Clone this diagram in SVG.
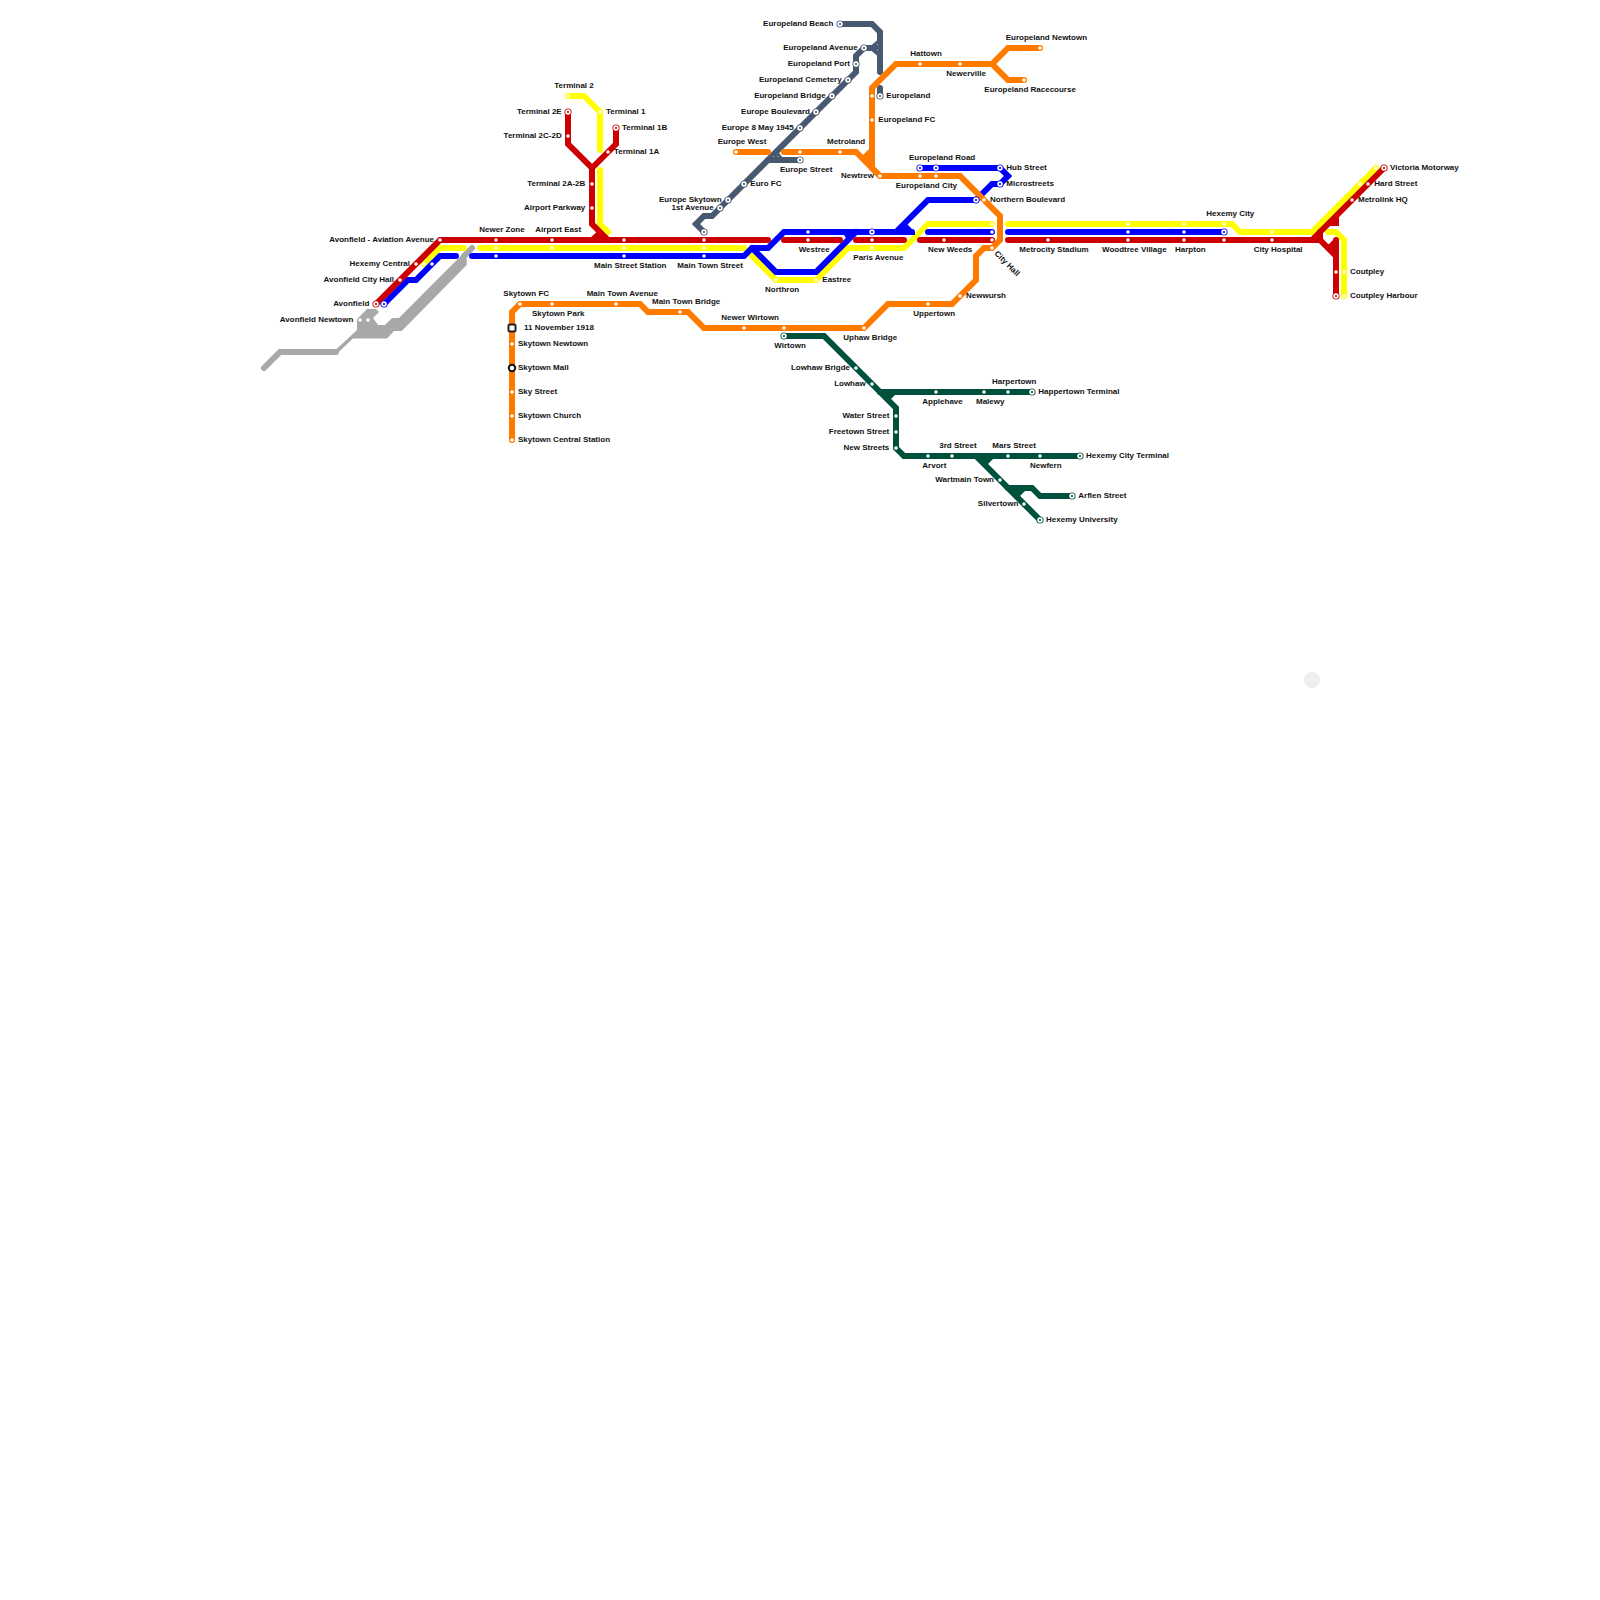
<svg xmlns="http://www.w3.org/2000/svg" width="1600" height="1600" viewBox="0 0 1600 1600">
<style>
text{font-family:"Liberation Sans",Arial,sans-serif;font-size:8px;font-weight:700;fill:#111111}
.e{text-anchor:end}
.m{text-anchor:middle}
.l{fill:none;stroke-width:6;stroke-linecap:round;stroke-linejoin:miter}
.red{stroke:#cc0000;color:#cc0000}.yel{stroke:#ffff00;color:#ffff00}.blu{stroke:#0000ff;color:#0000ff}.ora{stroke:#ff7b00;color:#ff7b00}.gra{stroke:#a8a8a8;color:#a8a8a8}.sla{stroke:#47596f;color:#47596f}.grn{stroke:#00513c;color:#00513c}
.fr{fill:#cc0000}.fb{fill:#0000ff}.fo{fill:#ff7b00}.fa{fill:#a8a8a8}.fs{fill:#47596f}.fg{fill:#00513c}
.d{fill:#fff}
.pin{fill:#fff;opacity:.7}
</style>
<defs>
<circle id="dot" r="1.8"/>
<g id="ring"><circle r="3.6" fill="currentColor" stroke="none"/><circle r="1.9" fill="currentColor" stroke="#fff" stroke-width="1.6"/></g>
</defs>
<circle id="pale-spot" cx="1312" cy="680" r="8" fill="#eeeeee"/>
<g id="connectors">
<g id="line-grey">
<polygon class="fa" points="466.7,250 399,318 392,318 385,325 378,325 373,318 379,312 376,309 367,309 357,319 357,330 336,349.5 336,354.5 353,338.5 387,338.5 394,331 401.7,331 466.7,265"/>
<path class="l gra" d="M264 368L280 352H336"/>
<path class="l gra" d="M464 256L472 248"/>
</g>
<g id="line-yellow">
<path class="l yel" d="M568 96H584L600 112V150"/>
<path class="l yel" d="M600 170V224L608 232"/>
<path class="l yel" d="M424 264L440 248H464"/>
<path class="l yel" d="M480 248H744"/>
<path class="l yel" d="M752 256L776 280H816L848 248H904L928 224H992"/>
<path class="l yel" d="M1008 224H1232L1240 232H1312L1376 168"/>
<path class="l yel" d="M1328 232H1336L1344 240V296"/>
</g>
<g id="line-blue">
<path class="l blu" d="M384 304L408 280H416L440 256H456"/>
<path class="l blu" d="M472 256H744L752 248H768L784 232H912"/>
<path class="l blu" d="M752 248L776 272H816L856 232"/>
<polygon class="fb" points="840,229 858,229 848,241"/>
<path class="l blu" d="M896 232L928 200H976"/>
<polygon class="fb" points="893,232 904,221 915,232 915,235 893,235"/>
<path class="l blu" d="M976 200L992 184H1000L1008 176L1000 168H920"/>
<path class="l blu" d="M928 232H992"/>
<path class="l blu" d="M1008 232H1224"/>
</g>
<g id="line-red">
<path class="l red" d="M376 304L440 240H768"/>
<path class="l red" d="M784 240H840"/>
<path class="l red" d="M856 240H904"/>
<path class="l red" d="M920 240H992"/>
<path class="l red" d="M1008 240H1320L1336 256"/>
<path class="l red" d="M568 112V144L592 168V224L608 240"/>
<path class="l red" d="M616 128V144L592 168"/>
<polygon class="fr" points="590,238 600,229 610,238"/>
<path class="l red" d="M1312 240L1384 168"/>
<path class="l red" d="M1336 240V296"/>
<path class="l red" d="M1320 240V232"/>
<polygon class="fr" points="1339,217 1339,226 1325,226"/>
<polygon class="fr" points="1328,245 1336,237 1336,258"/>
</g>
<g id="line-slate">
<path class="l sla" d="M840 24H872L880 32V72"/>
<path class="l sla" d="M880 88V96"/>
<path class="l sla" d="M880 48H864L856 56V72L720 208L712 216H704L696 224L704 232"/>
<polygon class="fs" points="868,48 880,38 880,58"/>
<path class="l sla" d="M768 160H800"/>
<polygon class="fs" points="776,149 786,162 766,162"/>
<circle class="pin" cx="877.5" cy="44.5" r=".6"/>
<circle class="pin" cx="877.5" cy="50" r=".6"/>
<circle class="pin" cx="773.5" cy="156.5" r=".6"/>
<circle class="pin" cx="778" cy="156.5" r=".6"/>
</g>
<g id="line-orange">
<path class="l ora" d="M736 152H768"/>
<path class="l ora" d="M784 152H856L880 176H960L1000 216V240L992 248H984L976 256V280L952 304H888L864 328H704L688 312H648L640 304H520L512 312V440"/>
<path class="l ora" d="M880 176L872 168V88L896 64H992L1008 48H1040"/>
<path class="l ora" d="M992 64L1008 80H1024"/>
<polygon class="fo" points="862,156 872,146 872,170"/>
</g>
<g id="line-green">
<path class="l grn" d="M784 336H824L896 408V448L904 456H1080"/>
<path class="l grn" d="M880 392H1032"/>
<polygon class="fg" points="878,392 898,392 888,402"/>
<path class="l grn" d="M976 456L1040 520"/>
<polygon class="fg" points="972,456 996,456 986,466"/>
<path class="l grn" d="M1008 488H1032L1040 496H1072"/>
<polygon class="fg" points="1004,488 1028,488 1018,498"/>
</g>
</g>
<g id="nodes">
<g id="n-terminal-2"><use href="#dot" class="d" x="568" y="96"/><text x="554.3" y="88">Terminal 2</text></g>
<g id="n-terminal-2e"><use href="#ring" class="red" x="568" y="112"/><text class="e" x="561.7" y="114">Terminal 2E</text></g>
<g id="n-terminal-2c-2d"><use href="#dot" class="d" x="568" y="136"/><text class="e" x="561.7" y="138">Terminal 2C-2D</text></g>
<g id="n-terminal-1"><use href="#dot" class="d" x="600" y="112"/><text x="606" y="114">Terminal 1</text></g>
<g id="n-terminal-1b"><use href="#ring" class="red" x="616" y="128"/><text x="622" y="130">Terminal 1B</text></g>
<g id="n-terminal-1a"><use href="#dot" class="d" x="608" y="152"/><text x="614" y="154">Terminal 1A</text></g>
<g id="n-terminal-2a-2b"><use href="#dot" class="d" x="592" y="184"/><text class="e" x="585.3" y="186">Terminal 2A-2B</text></g>
<g id="n-airport-parkway"><use href="#dot" class="d" x="592" y="208"/><text class="e" x="585.3" y="210">Airport Parkway</text></g>
<g id="n-newer-zone"><use href="#dot" class="d" x="496" y="240"/><use href="#dot" class="d" x="496" y="248"/><use href="#dot" class="d" x="496" y="256"/><text x="479.3" y="232">Newer Zone</text></g>
<g id="n-airport-east"><use href="#dot" class="d" x="552" y="240"/><use href="#dot" class="d" x="552" y="248"/><text x="535.3" y="232">Airport East</text></g>
<g id="n-avonfield-aviation-avenue"><use href="#dot" class="d" x="440" y="240"/><text class="e" x="434" y="242">Avonfield - Aviation Avenue</text></g>
<g id="n-hexemy-central"><use href="#dot" class="d" x="416" y="264"/><use href="#dot" class="d" x="424" y="264"/><use href="#dot" class="d" x="432" y="264"/><text class="e" x="410" y="266">Hexemy Central</text></g>
<g id="n-avonfield-city-hall"><use href="#dot" class="d" x="400" y="280"/><text class="e" x="394" y="282">Avonfield City Hall</text></g>
<g id="n-avonfield"><use href="#ring" class="red" x="376" y="304"/><use href="#ring" class="blu" x="384" y="304"/><text class="e" x="369.3" y="306">Avonfield</text></g>
<g id="n-avonfield-newtown"><use href="#dot" class="d" x="360" y="320"/><use href="#dot" class="d" x="368" y="320"/><text class="e" x="353.3" y="322">Avonfield Newtown</text></g>
<g id="n-main-street-station"><use href="#dot" class="d" x="624" y="240"/><use href="#dot" class="d" x="624" y="248"/><use href="#dot" class="d" x="624" y="256"/><text x="594" y="268">Main Street Station</text></g>
<g id="n-main-town-street"><use href="#ring" class="sla" x="704" y="232"/><use href="#dot" class="d" x="704" y="240"/><use href="#dot" class="d" x="704" y="248"/><use href="#dot" class="d" x="704" y="256"/><text x="677.3" y="268">Main Town Street</text></g>
<g id="n-skytown-fc"><use href="#dot" class="d" x="520" y="304"/><text x="503.3" y="296">Skytown FC</text></g>
<g id="n-skytown-park"><use href="#dot" class="d" x="552" y="304"/><text x="532" y="316">Skytown Park</text></g>
<g id="n-main-town-avenue"><use href="#dot" class="d" x="616" y="304"/><text x="586.7" y="296">Main Town Avenue</text></g>
<g id="n-main-town-bridge"><use href="#dot" class="d" x="680" y="312"/><text x="652" y="304">Main Town Bridge</text></g>
<g id="n-newer-wirtown"><use href="#dot" class="d" x="744" y="328"/><text x="721.3" y="320">Newer Wirtown</text></g>
<g id="n-11-november-1918"><rect x="508.500" y="324.500" width="7" height="7" rx="1" fill="#fff" stroke="#222" stroke-width="2"/><text x="524" y="330">11 November 1918</text></g>
<g id="n-skytown-newtown"><use href="#dot" class="d" x="512" y="344"/><text x="518" y="346">Skytown Newtown</text></g>
<g id="n-skytown-mall"><circle cx="512" cy="368" r="3.200" fill="#fff" stroke="#111" stroke-width="2"/><text x="518" y="370">Skytown Mall</text></g>
<g id="n-sky-street"><use href="#dot" class="d" x="512" y="392"/><text x="518" y="394">Sky Street</text></g>
<g id="n-skytown-church"><use href="#dot" class="d" x="512" y="416"/><text x="518" y="418">Skytown Church</text></g>
<g id="n-skytown-central-station"><use href="#dot" class="d" x="512" y="440"/><text x="518" y="442">Skytown Central Station</text></g>
<g id="n-wirtown"><use href="#dot" class="d" x="784" y="328"/><use href="#ring" class="grn" x="784" y="336"/><text x="774.3" y="348">Wirtown</text></g>
<g id="n-uphaw-bridge"><use href="#dot" class="d" x="864" y="328"/><text x="843.3" y="340">Uphaw Bridge</text></g>
<g id="n-lowhaw-brigde"><use href="#dot" class="d" x="856" y="368"/><text class="e" x="850" y="370">Lowhaw Brigde</text></g>
<g id="n-lowhaw"><use href="#dot" class="d" x="872" y="384"/><text class="e" x="865.7" y="386">Lowhaw</text></g>
<g id="n-water-street"><use href="#dot" class="d" x="896" y="416"/><text class="e" x="889.3" y="418">Water Street</text></g>
<g id="n-freetown-street"><use href="#dot" class="d" x="896" y="432"/><text class="e" x="889.3" y="434">Freetown Street</text></g>
<g id="n-new-streets"><use href="#dot" class="d" x="896" y="448"/><text class="e" x="889.3" y="450">New Streets</text></g>
<g id="n-applehave"><use href="#dot" class="d" x="936" y="392"/><text x="922.3" y="404">Applehave</text></g>
<g id="n-malewy"><use href="#dot" class="d" x="984" y="392"/><text x="976" y="404">Malewy</text></g>
<g id="n-harpertown"><use href="#dot" class="d" x="1008" y="392"/><text x="992" y="384">Harpertown</text></g>
<g id="n-happertown-terminal"><use href="#ring" class="grn" x="1032" y="392"/><text x="1038.300" y="394">Happertown Terminal</text></g>
<g id="n-arvort"><use href="#dot" class="d" x="928" y="456"/><text x="922.3" y="468">Arvort</text></g>
<g id="n-3rd-street"><use href="#dot" class="d" x="952" y="456"/><text x="939.3" y="448">3rd Street</text></g>
<g id="n-mars-street"><use href="#dot" class="d" x="1008" y="456"/><text x="992.3" y="448">Mars Street</text></g>
<g id="n-newfern"><use href="#dot" class="d" x="1040" y="456"/><text x="1030" y="468">Newfern</text></g>
<g id="n-hexemy-city-terminal"><use href="#ring" class="grn" x="1080" y="456"/><text x="1086" y="458">Hexemy City Terminal</text></g>
<g id="n-wartmain-town"><use href="#dot" class="d" x="1000" y="480"/><text class="e" x="994" y="482">Wartmain Town</text></g>
<g id="n-silvertown"><use href="#dot" class="d" x="1024" y="504"/><text class="e" x="1018.300" y="506">Silvertown</text></g>
<g id="n-arflen-street"><use href="#ring" class="grn" x="1072" y="496"/><text x="1078.300" y="498">Arflen Street</text></g>
<g id="n-hexemy-university"><use href="#ring" class="grn" x="1040" y="520"/><text x="1046" y="522">Hexemy University</text></g>
<g id="n-europeland-beach"><use href="#ring" class="sla" x="840" y="24"/><text class="e" x="833.3" y="26">Europeland Beach</text></g>
<g id="n-europeland-avenue"><use href="#ring" class="sla" x="864" y="48"/><text class="e" x="857.7" y="50">Europeland Avenue</text></g>
<g id="n-europeland-port"><use href="#ring" class="sla" x="856" y="64"/><text class="e" x="850" y="66">Europeland Port</text></g>
<g id="n-europeland-cemetery"><use href="#ring" class="sla" x="848" y="80"/><text class="e" x="841.7" y="82">Europeland Cemetery</text></g>
<g id="n-europeland-bridge"><use href="#ring" class="sla" x="832" y="96"/><text class="e" x="825.7" y="98">Europeland Bridge</text></g>
<g id="n-europe-boulevard"><use href="#ring" class="sla" x="816" y="112"/><text class="e" x="810" y="114">Europe Boulevard</text></g>
<g id="n-europe-8-may-1945"><use href="#ring" class="sla" x="800" y="128"/><text class="e" x="793.7" y="130">Europe 8 May 1945</text></g>
<g id="n-europe-west"><use href="#dot" class="d" x="736" y="152"/><text x="717.7" y="144">Europe West</text></g>
<g id="n-europe-street"><use href="#dot" class="d" x="800" y="152"/><use href="#ring" class="sla" x="800" y="160"/><text x="780" y="172">Europe Street</text></g>
<g id="n-metroland"><use href="#dot" class="d" x="840" y="152"/><text x="827" y="144">Metroland</text></g>
<g id="n-euro-fc"><use href="#ring" class="sla" x="744" y="184"/><text x="750.3" y="186">Euro FC</text></g>
<g id="n-europe-skytown"><use href="#ring" class="sla" x="728" y="200"/><text class="e" x="721.7" y="202">Europe Skytown</text></g>
<g id="n-1st-avenue"><use href="#ring" class="sla" x="720" y="208"/><text class="e" x="713.7" y="210">1st Avenue</text></g>
<g id="n-europeland"><use href="#dot" class="d" x="872" y="96"/><use href="#ring" class="sla" x="880" y="96"/><text x="886.3" y="98">Europeland</text></g>
<g id="n-europeland-fc"><use href="#dot" class="d" x="872" y="120"/><text x="878.3" y="122">Europeland FC</text></g>
<g id="n-hattown"><use href="#dot" class="d" x="920" y="64"/><text x="910.3" y="56">Hattown</text></g>
<g id="n-newerville"><use href="#dot" class="d" x="960" y="64"/><text x="946.3" y="76">Newerville</text></g>
<g id="n-europeland-newtown"><use href="#dot" class="d" x="1040" y="48"/><text x="1005.7" y="40">Europeland Newtown</text></g>
<g id="n-europeland-racecourse"><use href="#dot" class="d" x="1024" y="80"/><text x="984.3" y="92">Europeland Racecourse</text></g>
<g id="n-newtrew"><use href="#dot" class="d" x="880" y="176"/><text class="e" x="874" y="178">Newtrew</text></g>
<g id="n-europeland-road"><use href="#ring" class="blu" x="920" y="168"/><use href="#ring" class="blu" x="936" y="168"/><text x="909" y="160">Europeland Road</text></g>
<g id="n-europeland-city"><use href="#dot" class="d" x="920" y="176"/><use href="#dot" class="d" x="936" y="176"/><text x="895.7" y="188">Europeland City</text></g>
<g id="n-hub-street"><use href="#ring" class="blu" x="1000" y="168"/><text x="1006.300" y="170">Hub Street</text></g>
<g id="n-microstreets"><use href="#ring" class="blu" x="1000" y="184"/><text x="1006.300" y="186">Microstreets</text></g>
<g id="n-northern-boulevard"><use href="#ring" class="blu" x="976" y="200"/><use href="#dot" class="d" x="984" y="200"/><text x="990" y="202">Northern Boulevard</text></g>
<g id="n-westree"><use href="#dot" class="d" x="808" y="232"/><use href="#dot" class="d" x="808" y="240"/><text x="798.7" y="252">Westree</text></g>
<g id="n-paris-avenue"><use href="#ring" class="blu" x="872" y="232"/><use href="#dot" class="d" x="872" y="240"/><use href="#dot" class="d" x="872" y="248"/><text x="853.3" y="260">Paris Avenue</text></g>
<g id="n-new-weeds"><use href="#dot" class="d" x="944" y="240"/><text x="928" y="252">New Weeds</text></g>
<g id="n-city-hall"><use href="#dot" class="d" x="992" y="224"/><use href="#dot" class="d" x="992" y="232"/><use href="#dot" class="d" x="992" y="240"/><use href="#dot" class="d" x="992" y="248"/><text x="994" y="254" transform="rotate(45 994 254)">City Hall</text></g>
<g id="n-northron"><use href="#dot" class="d" x="776" y="280"/><text x="765" y="292">Northron</text></g>
<g id="n-eastree"><use href="#dot" class="d" x="816" y="280"/><text x="822.3" y="282">Eastree</text></g>
<g id="n-newwursh"><use href="#dot" class="d" x="960" y="296"/><text x="966" y="298">Newwursh</text></g>
<g id="n-uppertown"><use href="#dot" class="d" x="928" y="304"/><text x="913.3" y="316">Uppertown</text></g>
<g id="n-metrocity-stadium"><use href="#dot" class="d" x="1048" y="240"/><text x="1019.3" y="252">Metrocity Stadium</text></g>
<g id="n-woodtree-village"><use href="#dot" class="d" x="1128" y="224"/><use href="#dot" class="d" x="1128" y="232"/><use href="#dot" class="d" x="1128" y="240"/><text x="1102" y="252">Woodtree Village</text></g>
<g id="n-harpton"><use href="#dot" class="d" x="1184" y="224"/><use href="#dot" class="d" x="1184" y="232"/><use href="#dot" class="d" x="1184" y="240"/><text x="1175" y="252">Harpton</text></g>
<g id="n-hexemy-city"><use href="#dot" class="d" x="1224" y="224"/><use href="#ring" class="blu" x="1224" y="232"/><use href="#dot" class="d" x="1224" y="240"/><text x="1206.3" y="216">Hexemy City</text></g>
<g id="n-city-hospital"><use href="#dot" class="d" x="1272" y="232"/><use href="#dot" class="d" x="1272" y="240"/><text x="1253.7" y="252">City Hospital</text></g>
<g id="n-victoria-motorway"><use href="#dot" class="d" x="1376" y="168"/><use href="#ring" class="red" x="1384" y="168"/><text x="1390" y="170">Victoria Motorway</text></g>
<g id="n-hard-street"><use href="#dot" class="d" x="1360" y="184"/><use href="#dot" class="d" x="1368" y="184"/><text x="1374.3" y="186">Hard Street</text></g>
<g id="n-metrolink-hq"><use href="#dot" class="d" x="1352" y="200"/><text x="1358" y="202">Metrolink HQ</text></g>
<g id="n-coutpley"><use href="#dot" class="d" x="1336" y="272"/><use href="#dot" class="d" x="1344" y="272"/><text x="1350" y="274">Coutpley</text></g>
<g id="n-coutpley-harbour"><use href="#ring" class="red" x="1336" y="296"/><use href="#dot" class="d" x="1344" y="296"/><text x="1350" y="298">Coutpley Harbour</text></g>
</g>
</svg>
